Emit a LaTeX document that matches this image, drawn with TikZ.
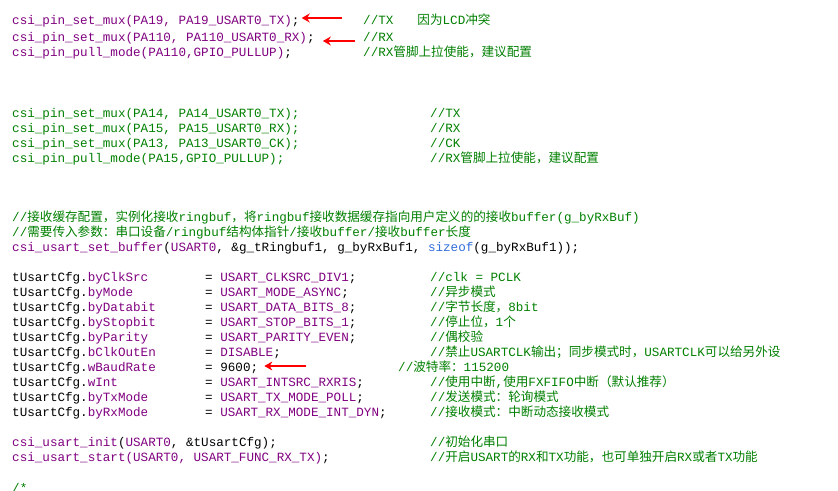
\documentclass[tikz,border=0pt]{standalone}
\usepackage{fontspec}
\usepackage{tikz}
\usetikzlibrary{arrows.meta}
\setmonofont{Liberation Mono}
\newfontfamily\cjk{Noto Sans CJK SC}
\definecolor{fnc}{RGB}{128,0,128}
\definecolor{cmt}{RGB}{0,128,0}
\definecolor{kw}{RGB}{50,110,220}
\newcommand\C[1]{{\cjk #1}}
\newcommand\fn[1]{\textcolor{fnc}{#1}}
\newcommand\cm[1]{\textcolor{cmt}{#1}}
\tikzset{
  code/.style={anchor=base west, inner sep=0pt, font=\ttfamily\fontsize{12.6}{14}\selectfont},
  redarrow/.style={draw=red, line width=2.2pt, -{Stealth[length=8pt,width=9pt]}}
}

\begin{document}
\begin{tikzpicture}[x=1pt,y=-1pt]
    \useasboundingbox[fill=white] (0,0) rectangle (838,490);

    % pin mux, active
    \node[code] (m1) at (12,24) {\fn{csi\_pin\_set\_mux(PA19, PA19\_USART0\_TX)};};
    \node[code] (m2) at (12,41) {\fn{csi\_pin\_set\_mux(PA110, PA110\_USART0\_RX)};};
    \node[code] (m3) at (12,56) {\fn{csi\_pin\_pull\_mode(PA110,GPIO\_PULLUP)};};
    \node[code] (c1) at (363,24) {\cm{//TX\hspace{24pt}\C{因为}LCD\C{冲突}}};
    \node[code] (c2) at (363,41) {\cm{//RX}};
    \node[code] (c3) at (363,56) {\cm{//RX\C{管脚上拉使能，建议配置}}};

    % pin mux, inactive
    \node[code] (n1) at (12,117) {\cm{csi\_pin\_set\_mux(PA14, PA14\_USART0\_TX);}};
    \node[code] (n2) at (12,132) {\cm{csi\_pin\_set\_mux(PA15, PA15\_USART0\_RX);}};
    \node[code] (n3) at (12,147) {\cm{csi\_pin\_set\_mux(PA13, PA13\_USART0\_CK);}};
    \node[code] (n4) at (12,162) {\cm{csi\_pin\_pull\_mode(PA15,GPIO\_PULLUP);}};
    \node[code] (d1) at (430,117) {\cm{//TX}};
    \node[code] (d2) at (430,132) {\cm{//RX}};
    \node[code] (d3) at (430,147) {\cm{//CK}};
    \node[code] (d4) at (430,162) {\cm{//RX\C{管脚上拉使能，建议配置}}};

    % ringbuf
    \node[code] (b1) at (12,221) {\cm{//\C{接收缓存配置，实例化接收}ringbuf\C{，将}ringbuf\C{接收数据缓存指向用户定义的的接收}buffer(g\_byRxBuf)}};
    \node[code] (b2) at (12,236) {\cm{//\C{需要传入参数：串口设备}/ringbuf\C{结构体指针}/\C{接收}buffer/\C{接收}buffer\C{长度}}};
    \node[code] (b3) at (12,251) {\fn{csi\_usart\_set\_buffer}(\fn{USART0}, \&g\_tRingbuf1, g\_byRxBuf1, \textcolor{kw}{sizeof}(g\_byRxBuf1));};

    % config
    \foreach \fld/\val/\com [count=\i] in {
        byClkSrc/\fn{USART\_CLKSRC\_DIV1};/{//clk = PCLK},
        byMode/\fn{USART\_MODE\_ASYNC};/{//\C{异步模式}},
        byDatabit/\fn{USART\_DATA\_BITS\_8};/{//\C{字节长度，}8bit},
        byStopbit/\fn{USART\_STOP\_BITS\_1};/{//\C{停止位，}1\C{个}},
        byParity/\fn{USART\_PARITY\_EVEN};/{//\C{偶校验}},
        bClkOutEn/\fn{DISABLE};/{//\C{禁止}USARTCLK\C{输出；同步模式时，}USARTCLK\C{可以给另外设}},
        wBaudRate/9600;/{},
        wInt/\fn{USART\_INTSRC\_RXRIS};/{//\C{使用中断},\C{使用}FXFIFO\C{中断（默认推荐）}},
        byTxMode/\fn{USART\_TX\_MODE\_POLL};/{//\C{发送模式：轮询模式}},
        byRxMode/\fn{USART\_RX\_MODE\_INT\_DYN};/{//\C{接收模式：中断动态接收模式}}} {
        \node[code] (f\i) at (12,266+15*\i) {tUsartCfg.\fn{\fld}};
        \node[code] (v\i) at (205,266+15*\i) {= \val};
        \node[code] (k\i) at (430,266+15*\i) {\cm{\com}};
    }
    \node[code] (k7b) at (398,371) {\cm{//\C{波特率：}115200}};

    % init and start
    \node[code] (i1) at (12,446) {\fn{csi\_usart\_init}(\fn{USART0}, \&tUsartCfg);};
    \node[code] (i2) at (12,461) {\fn{csi\_usart\_start(USART0, USART\_FUNC\_RX\_TX)};};
    \node[code] (j1) at (430,446) {\cm{//\C{初始化串口}}};
    \node[code] (j2) at (430,461) {\cm{//\C{开启}USART\C{的}RX\C{和}TX\C{功能，也可单独开启}RX\C{或者}TX\C{功能}}};
    \node[code] (e1) at (12,492) {\cm{/*}};

    % markers
    \coordinate (a1) at (342,18);
    \coordinate (a2) at (355,41);
    \coordinate (a3) at (306,366);
    \draw[redarrow] (a1) -- ([xshift=2pt]m1.east |- a1);
    \draw[redarrow] (a2) -- ([xshift=8pt]m2.east |- a2);
    \draw[redarrow] (a3) -- ([xshift=6pt]v7.east |- a3);
\end{tikzpicture}
\end{document}
